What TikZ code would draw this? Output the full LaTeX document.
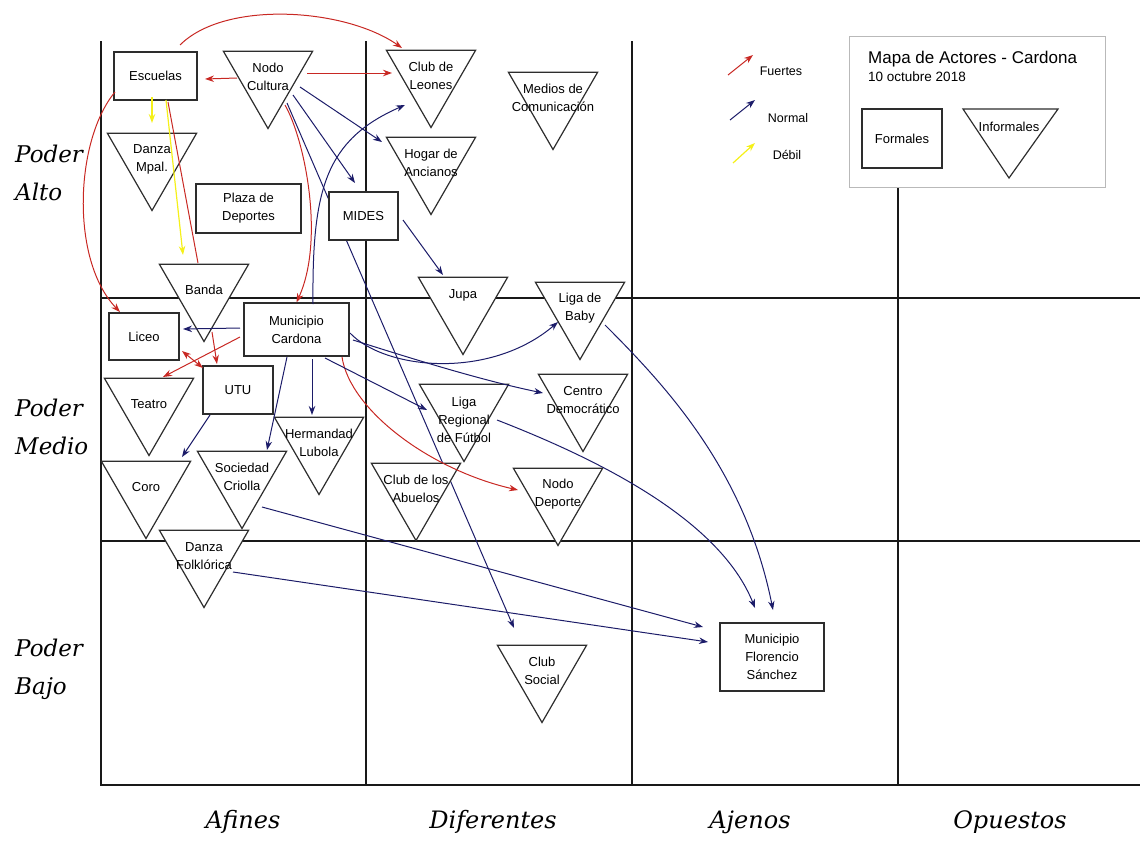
\documentclass[tikz,border=0pt]{standalone}
\usepackage{fontspec}
\setmainfont{Liberation Sans}
\newfontfamily\handfont{DejaVu Serif}
\usetikzlibrary{shapes.geometric,arrows.meta,backgrounds}

\definecolor{strongred}{RGB}{200,40,35}
\definecolor{normalblue}{RGB}{28,28,105}
\definecolor{weakyellow}{RGB}{245,240,25}
\definecolor{gridgray}{RGB}{25,25,25}
\definecolor{shapegray}{RGB}{45,45,45}

\begin{document}
\begin{tikzpicture}[x=1pt, y=-1pt, >={Stealth[length=9pt,width=6.5pt]}]
    \tikzset{
        formal/.style={draw=shapegray, fill=white, rectangle, line width=1.2pt, align=center, font=\fontsize{13}{18}\selectfont, inner sep=0pt},
        informal/.style={draw=shapegray, fill=white, regular polygon, regular polygon sides=3, shape border rotate=180, minimum size=103pt, inner sep=0pt, line width=1.2pt},
        trilabel/.style={align=center, font=\fontsize{13}{18}\selectfont, inner sep=0pt},
        axis/.style={draw=gridgray, line width=2.4pt},
        rowhand/.style={font=\handfont\itshape\fontsize{23}{38}\selectfont, align=left, inner sep=0pt, anchor=west},
        colhand/.style={font=\handfont\itshape\fontsize{24}{28}\selectfont, inner sep=0pt},
        legtext/.style={font=\fontsize{12.5}{14}\selectfont, inner sep=0pt},
        strongline/.style={draw=strongred, ->, line width=1pt},
        normalline/.style={draw=normalblue, ->, line width=1pt},
        weakline/.style={draw=weakyellow, ->, line width=1.2pt}
    }
    \useasboundingbox (0,0) rectangle (1142,841);

    % Legend
    \node[draw=gray!55, line width=0.8pt, minimum width=256pt, minimum height=151pt] (legbox) at (977,111.5) {};
    \node[anchor=west, inner sep=0pt, font=\fontsize{17}{19}\selectfont] (legtitle) at (868,59) {Mapa de Actores - Cardona};
    \node[anchor=west, inner sep=0pt, font=\fontsize{13.5}{15}\selectfont] (legdate) at (868,77) {10 octubre 2018};
    \node[formal, minimum width=80pt, minimum height=59pt] (formales) at (902,138.5) {Formales};
    \draw[draw=shapegray, line width=1.2pt] (963,109) -- (1058,109) -- (1009,178) -- cycle;
    \node[trilabel] (informales) at (1009,127) {Informales};
    \node[legtext] (fuertes) at (781,71) {Fuertes};
    \node[legtext] (normal) at (788,118) {Normal};
    \node[legtext] (debil) at (787,155) {Débil};
    \path[strongline] ([shift={(-53,4)}]fuertes.center) -- ([shift={(-28,-16)}]fuertes.center);
    \path[normalline] ([shift={(-58,2)}]normal.center) -- ([shift={(-33,-18)}]normal.center);
    \path[weakline] ([shift={(-54,8)}]debil.center) -- ([shift={(-32,-12)}]debil.center);

    % Axis labels
    \node[rowhand] (alto) at (15,173) {Poder\\Alto};
    \node[rowhand] (medio) at (15,427) {Poder\\Medio};
    \node[rowhand] (bajo) at (15,669) {Poder\\Bajo};
    \node[colhand] (afines) at (243,822) {Afines};
    \node[colhand] (diferentes) at (493,822) {Diferentes};
    \node[colhand] (ajenos) at (750,822) {Ajenos};
    \node[colhand] (opuestos) at (1010,822) {Opuestos};

    % Formal actors
    \node[formal, minimum width=83pt, minimum height=48pt] (esc) at (155.5,76) {Escuelas};
    \node[formal, minimum width=105pt, minimum height=49pt] (plaza) at (248.5,208.5) {Plaza de\\Deportes};
    \node[formal, minimum width=69pt, minimum height=48pt] (mides) at (363.5,216) {MIDES};
    \node[formal, minimum width=70pt, minimum height=47pt] (liceo) at (144,336.5) {Liceo};
    \node[formal, minimum width=105pt, minimum height=53pt] (muni) at (296.5,329.5) {Municipio\\Cardona};
    \node[formal, minimum width=70pt, minimum height=48pt] (utu) at (238,390) {UTU};
    \node[formal, minimum width=104pt, minimum height=68pt] (mfs) at (772,657) {Municipio\\Florencio\\Sánchez};

    % Informal actors
    \node[informal, label={[trilabel]center:Nodo\\Cultura}] (cult) at (268,77) {};
    \node[informal, label={[trilabel]center:Club de\\Leones}] (leon) at (431,76) {};
    \node[informal, label={[trilabel]center:Medios de\\Comunicación}] (medios) at (553,98) {};
    \node[informal, label={[trilabel]center:Hogar de\\Ancianos}] (hogar) at (431,163) {};
    \node[informal, label={[trilabel]center:Danza\\Mpal.}] (danzaM) at (152,159) {};
    \node[informal, label={[trilabel]center:Banda}] (banda) at (204,290) {};
    \node[informal, label={[trilabel,yshift=8pt]center:Jupa}] (jupa) at (463,303) {};
    \node[informal, label={[trilabel]center:Liga de\\Baby}] (ligaB) at (580,308) {};
    \node[informal, label={[trilabel]center:Teatro}] (teatro) at (149,404) {};
    \node[informal, label={[trilabel]center:Centro\\Democrático}] (centro) at (583,400) {};
    \node[informal, label={[trilabel,yshift=-10pt]center:Liga\\Regional\\de Fútbol}] (ligaR) at (464,410) {};
    \node[informal, label={[trilabel]center:Hermandad\\Lubola}] (herm) at (319,443) {};
    \node[informal, label={[trilabel]center:Coro}] (coro) at (146,487) {};
    \node[informal, label={[trilabel]center:Sociedad\\Criolla}] (socC) at (242,477) {};
    \node[informal, label={[trilabel]center:Club de los\\Abuelos}] (abuelos) at (416,489) {};
    \node[informal, label={[trilabel]center:Nodo\\Deporte}] (deporte) at (558,494) {};
    \node[informal, label={[trilabel]center:Danza\\Folklórica}] (danzaF) at (204,556) {};
    \node[informal, label={[trilabel]center:Club\\Social}] (social) at (542,671) {};

    % Grid and the link hidden behind MIDES
    \begin{scope}[on background layer]
        \draw[axis] (101,41) -- (101,785) -- (1140,785);
        \draw[axis] (366,41) -- (366,785);
        \draw[axis] (632,41) -- (632,785);
        \draw[axis] (898,187) -- (898,785);
        \draw[axis] (101,298) -- (1140,298);
        \draw[axis] (101,541) -- (1140,541);
        \path[normalline] ([shift={(19,26)}]cult.center) -- ([shift={(-28,-43)}]social.center);
    \end{scope}

    % Strong ties
    \path[strongline] ([shift={(-31,1)}]cult.center) -- ([shift={(49.5,3)}]esc.center);
    \path[strongline] ([shift={(39,-4)}]cult.center) -- ([shift={(-39,-3)}]leon.center);
    \path[strongline] ([shift={(24.5,-31)}]esc.center) .. controls (225,0) and (345,8) .. ([shift={(-29,-28)}]leon.center);
    \path[strongline] ([shift={(-40.5,16)}]esc.center) .. controls (75,140) and (70,260) .. ([shift={(-24,-24.5)}]liceo.center);
    \path[strongline, -] ([shift={(12.5,26)}]esc.center) -- ([shift={(-6,-27)}]banda.center);
    \path[strongline] ([shift={(17,28)}]cult.center) .. controls (305,140) and (325,240) .. (muni.north);
    \path[strongline] ([shift={(8,42)}]banda.center) -- ([shift={(-21,-26)}]utu.center);
    \path[strongline, <->] ([shift={(38,14.5)}]liceo.center) -- ([shift={(-35,-22)}]utu.center);
    \path[strongline] ([shift={(-56.5,7.5)}]muni.center) -- ([shift={(14,-27)}]teatro.center);
    \path[strongline] ([shift={(45.5,27.5)}]muni.center) .. controls (350,410) and (430,470) .. ([shift={(-40,-4)}]deporte.center);

    % Weak ties
    \path[weakline] ([shift={(-3.5,21)}]esc.center) -- ([shift={(0,-36)}]danzaM.center);
    \path[weakline] ([shift={(10.5,24)}]esc.center) -- ([shift={(-21,-35)}]banda.center);

    % Normal ties
    \path[normalline] ([shift={(32,10)}]cult.center) -- ([shift={(-49,-21)}]hogar.center);
    \path[normalline] ([shift={(25,18)}]cult.center) -- ([shift={(-8.5,-33)}]mides.center);
    \path[normalline] ([shift={(16.5,-25.5)}]muni.center) .. controls (312,190) and (325,140) .. ([shift={(-26,29)}]leon.center);
    \path[normalline] ([shift={(39.5,4)}]mides.center) -- ([shift={(-20,-28)}]jupa.center);
    \path[normalline] ([shift={(-56.5,-1.5)}]muni.center) -- ([shift={(39,-7.5)}]liceo.center);
    \path[normalline] ([shift={(15.5,29.5)}]muni.center) -- ([shift={(-7,-28)}]herm.center);
    \path[normalline] ([shift={(-9.5,27.5)}]muni.center) -- ([shift={(25,-27)}]socC.center);
    \path[normalline] ([shift={(-28,25)}]utu.center) -- ([shift={(36,-30)}]coro.center);
    \path[normalline] ([shift={(53.5,3.5)}]muni.center) .. controls (385,370) and (490,380) .. ([shift={(-22,14)}]ligaB.center);
    \path[normalline] ([shift={(56.5,10.5)}]muni.center) .. controls (410,358) and (480,380) .. ([shift={(-40,-7)}]centro.center);
    \path[normalline] ([shift={(28.5,28.5)}]muni.center) -- ([shift={(-37,0)}]ligaR.center);
    \path[normalline] ([shift={(33,10)}]ligaR.center) .. controls (600,460) and (720,520) .. ([shift={(-17,-49)}]mfs.center);
    \path[normalline] ([shift={(25,17)}]ligaB.center) .. controls (665,385) and (745,470) .. ([shift={(1,-47)}]mfs.center);
    \path[normalline] ([shift={(20,30)}]socC.center) -- ([shift={(-69,-30)}]mfs.center);
    \path[normalline] ([shift={(29,16)}]danzaF.center) -- ([shift={(-64,-15)}]mfs.center);

\end{tikzpicture}
\end{document}
